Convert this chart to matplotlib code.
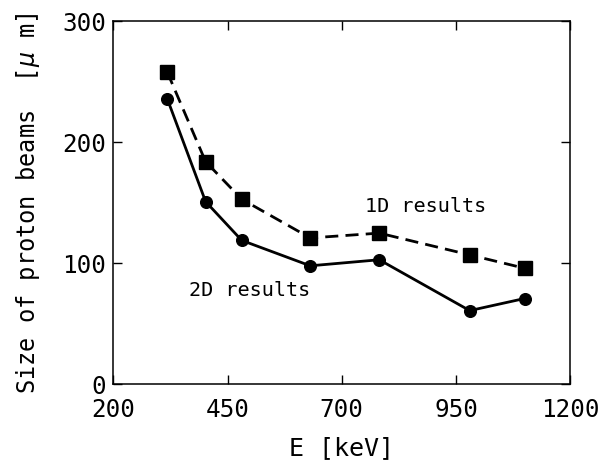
import matplotlib
matplotlib.use('Agg')
import matplotlib.pyplot as plt

plt.rcParams['font.family'] = ['DejaVu Sans Mono', 'Noto Sans CJK JP', 'DejaVu Sans']

# energies (keV)
E = [318, 402, 481, 631, 782, 980, 1100]
# beam sizes (um)
size_1d = [258, 184, 153, 121, 125, 107, 96]
size_2d = [236, 151, 119, 98, 103, 61, 71]

xticks = [200, 450, 700, 950, 1200]
yticks = [0, 100, 200, 300]

fig = plt.figure(figsize=(6.06, 4.61), dpi=100)
ax = fig.add_axes([0.187, 0.166, 0.754, 0.788])

ax.plot(E, size_1d, 'ks--', lw=2, ms=9.6, dashes=(4.7, 2.6))
ax.plot(E, size_2d, 'ko-', lw=2, ms=8.4)

ax.text(883, 147, '1D results', ha='center', va='center', fontsize=14.5)
ax.text(498, 78, '2D results', ha='center', va='center', fontsize=14.5)

ax.set_xlim(200, 1200)
ax.set_ylim(0, 300)
ax.set_xticks(xticks)
ax.set_yticks(yticks)
ax.tick_params(direction='in', top=True, right=True, length=6.5, width=1,
               labelsize=17.5)
ax.tick_params(axis='x', pad=10)
ax.tick_params(axis='y', pad=5)
for s in ax.spines.values():
    s.set_linewidth(1.1)

ax.set_xlabel('E [keV]', fontsize=18, labelpad=10)
ax.set_ylabel('Size of proton beams  [$\\mu$ m]', fontsize=17, labelpad=15)

fig.savefig('out.png', dpi=100)
